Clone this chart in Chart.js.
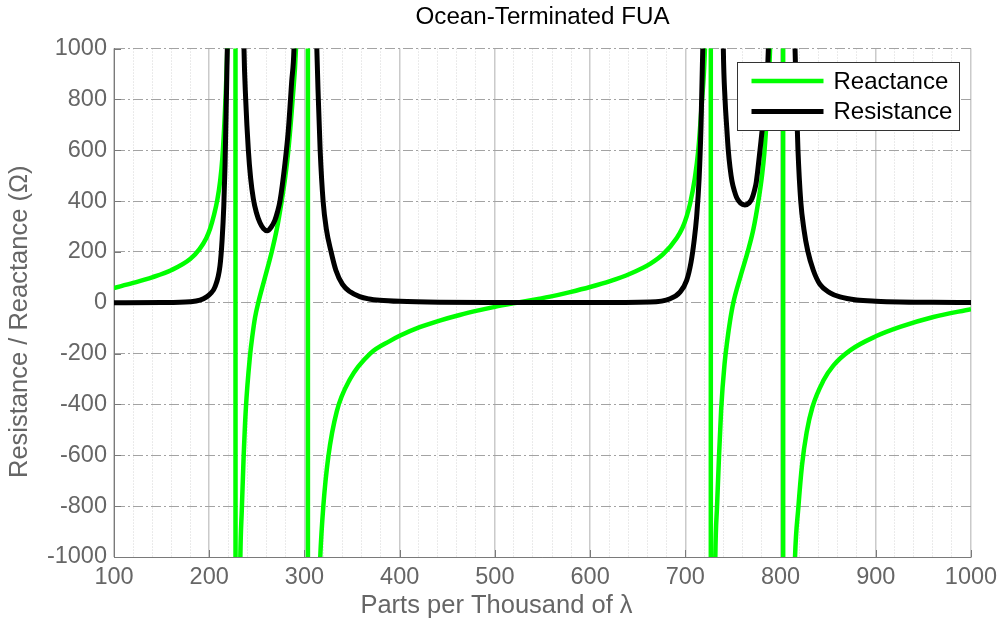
<!DOCTYPE html>
<html>
<head>
<meta charset="utf-8">
<title>Ocean-Terminated FUA</title>
<script src="https://cdn.jsdelivr.net/npm/chart.js@4.4.1/dist/chart.umd.min.js"></script>
<style>
  html, body { margin: 0; padding: 0; background: #fff; }
</style>
</head>
<body>
<canvas id="fua" width="1000" height="619"></canvas>
<script>
// feed-point impedance vs. length (parts per thousand of lambda)
// values beyond +/-1000 only steer the curve off the top/bottom of the plot
const reactanceX = [100, 120, 140, 160, 180, 190, 197, 201, 205, 208.5, 211.5, 213.8, 216.6, 219, 222, 225, 227.4,
  227.8, 229.5, 231, 232.7, 234.2, 236, 238.4, 242.8, 245.5, 248.1, 251.5, 258, 265.6, 271, 276.1, 280, 283.1, 287.6, 291.1, 295, 299, 302, 303.5,
  303.8, 306, 310, 313, 316.6, 319.8, 325.1, 333.9, 347.9, 369, 390, 400, 421, 442, 463, 484, 500, 523, 547, 558, 579, 600, 621, 642, 663, 677, 691, 697, 701.4, 705, 710, 713.6, 717, 720.6, 723, 725, 726.6,
  726.9, 728.5, 730, 731.5, 733.3, 735.2, 737.6, 741.2, 744, 747, 750.4, 758, 766.2, 771.5, 776.7, 780.5, 783, 786, 789, 792, 796, 800.5, 802.6,
  802.9, 805, 809, 812, 815.2, 818.7, 822.5, 827.4, 833.5, 845, 855.4, 873, 900, 925.5, 960.5, 1000];
const reactanceY = [58, 78, 100, 128, 172, 212, 255, 292, 345, 405, 480, 570, 760, 1000, 1500, 3000, 12000,
  -12000, -3000, -1600, -1000, -815, -620, -420, -210, -125, -58, 0, 92, 200, 290, 400, 500, 600, 800, 1000, 1500, 2800, 6000, 12000,
  -12000, -6000, -2200, -1400, -1000, -802, -605, -428, -300, -200, -150, -130, -96, -70, -48, -29, -16, 0, 16, 24, 42, 62, 85, 114, 153, 192, 255, 295, 340, 390, 490, 600, 770, 1000, 1400, 2600, 12000,
  -12000, -3000, -1600, -1000, -800, -620, -420, -240, -150, -70, 0, 105, 210, 290, 400, 500, 590, 760, 1000, 1500, 2800, 6500, 12000,
  -12000, -6000, -2500, -1500, -1000, -805, -640, -510, -410, -306, -247, -187, -132, -95, -56, -25];

const resistanceX = [100, 150, 180, 190.3, 197.3, 201, 206, 211.3, 213.5, 215.3, 216.6, 217.8, 219, 221, 224, 227.8,
  230.5, 233.5, 236.5, 238.3, 241.1, 243.5, 246.3, 249.5, 253.3, 257, 261, 265, 269, 271.5, 274.3, 279.6, 283.1, 286.6, 289, 293, 297, 301,
  305, 309.5, 313, 314.6, 316.5, 319.6, 323, 328, 333, 340, 348, 358, 368, 379, 400, 442, 500, 600, 663, 684, 694.4, 701.4, 706, 709.1, 711.9, 714.5, 716.5, 718.3, 721, 724, 729,
  734, 737.5, 739.9, 741.7, 743.3, 745.1, 747, 749, 751.5, 754, 758, 762.5, 767, 770, 772.5, 774.5, 778.4, 783.7, 787.2, 791, 796, 801,
  806, 811, 815.2, 816.6, 818.3, 821.2, 824.5, 828.5, 834.4, 841.4, 851.9, 862.4, 880, 900, 925, 960, 1000];
const resistanceY = [0.5, 1, 4, 10, 23, 35, 62, 145, 245, 380, 540, 760, 1000, 1550, 3500, 9000,
  4000, 1800, 1000, 800, 600, 490, 410, 355, 315, 292, 283, 297, 325, 355, 400, 550, 680, 870, 1000, 1700, 3500, 9000,
  3500, 1700, 1000, 800, 600, 400, 290, 200, 128, 72, 43, 24, 15, 10, 5.5, 2, 1, 1, 3, 16, 42, 88, 160, 240, 340, 490, 700, 1000, 1800, 4000, 9000,
  4000, 1800, 1000, 800, 700, 600, 530, 478, 440, 413, 392, 385, 393, 410, 440, 475, 600, 800, 1000, 1700, 3500, 9000,
  3500, 1700, 1000, 800, 600, 400, 290, 205, 128, 72, 39, 23, 11, 6, 3, 2, 1];

const xLabelled = [100, 200, 300, 400, 500, 600, 700, 800, 900, 1000];
const yLabelled = [-1000, -800, -600, -400, -200, 0, 200, 400, 600, 800, 1000];
const xTitle = 'Parts per Thousand of λ';
const yTitle = 'Resistance / Reactance (Ω)';

const FONT = "'Liberation Sans', Arial, Helvetica, sans-serif";
const GRAY = '#666666';
const AXIS = '#7a7a7a';

const toPoints = (xs, ys) => xs.map((x, i) => ({ x: x, y: ys[i] }));
const isMajorX = ctx => ctx.tick && xLabelled.includes(ctx.tick.value);

// inward tick marks on the left and bottom axes
const axisTicks = {
  id: 'axisTicks',
  beforeDatasetsDraw(chart) {
    const { ctx, chartArea: a, scales: { x, y } } = chart;
    ctx.save();
    ctx.strokeStyle = AXIS;
    ctx.lineWidth = 1;
    ctx.beginPath();
    xLabelled.forEach(v => {
      const px = Math.round(x.getPixelForValue(v)) + 0.5;
      ctx.moveTo(px, a.bottom);
      ctx.lineTo(px, a.bottom - 7);
    });
    yLabelled.forEach(v => {
      const py = Math.round(y.getPixelForValue(v)) + 0.5;
      ctx.moveTo(a.left, py);
      ctx.lineTo(a.left + 7, py);
    });
    ctx.stroke();
    ctx.restore();
  }
};

// axis titles, set a little off the plot centre like the original figure
const axisTitles = {
  id: 'axisTitles',
  afterDraw(chart) {
    const { ctx, chartArea: a } = chart;
    ctx.save();
    ctx.fillStyle = GRAY;
    ctx.font = '25.5px ' + FONT;
    ctx.textAlign = 'center';
    ctx.textBaseline = 'middle';
    ctx.fillText(xTitle, (a.left + a.right) / 2 - 46, 606);
    ctx.translate(20, (a.top + a.bottom) / 2 + 19);
    ctx.rotate(-Math.PI / 2);
    ctx.fillText(yTitle, 0, 0);
    ctx.restore();
  }
};

// boxed legend in the upper right of the plot
const boxLegend = {
  id: 'boxLegend',
  afterDraw(chart) {
    const { ctx, chartArea: a } = chart;
    const w = 222, h = 68;
    const x0 = Math.round(a.right - 12 - w) + 0.5;
    const y0 = Math.round(a.top + 13.5) + 0.5;
    ctx.save();
    ctx.fillStyle = '#fff';
    ctx.fillRect(x0, y0, w, h);
    ctx.strokeStyle = '#333';
    ctx.lineWidth = 1;
    ctx.strokeRect(x0, y0, w, h);
    ctx.font = '24px ' + FONT;
    ctx.textBaseline = 'middle';
    chart.data.datasets.forEach((ds, i) => {
      const ry = y0 + 18.5 + i * 30.5;
      ctx.strokeStyle = ds.borderColor;
      ctx.lineWidth = ds.borderWidth;
      ctx.beginPath();
      ctx.moveTo(x0 + 14, ry);
      ctx.lineTo(x0 + 86, ry);
      ctx.stroke();
      ctx.fillStyle = '#000';
      ctx.fillText(ds.label, x0 + 96, ry + 1);
    });
    ctx.restore();
  }
};

new Chart(document.getElementById('fua'), {
  type: 'line',
  data: {
    datasets: [
      {
        label: 'Reactance',
        data: toPoints(reactanceX, reactanceY),
        borderColor: '#00ff00',
        borderWidth: 4.5,
        pointRadius: 0,
        cubicInterpolationMode: 'monotone',
        clip: 0,
        order: 2
      },
      {
        label: 'Resistance',
        data: toPoints(resistanceX, resistanceY),
        borderColor: '#000000',
        borderWidth: 5,
        pointRadius: 0,
        cubicInterpolationMode: 'monotone',
        clip: 0,
        order: 1
      }
    ]
  },
  options: {
    responsive: false,
    animation: false,
    devicePixelRatio: 1,
    layout: { padding: { left: 0, right: 29, top: 0, bottom: 0 } },
    plugins: {
      legend: { display: false },
      tooltip: { enabled: false },
      title: {
        display: true,
        fullSize: false,
        text: 'Ocean-Terminated FUA',
        color: '#000',
        font: { family: FONT, size: 24.2, weight: 'normal' },
        padding: { top: 2.5, bottom: 17 }
      }
    },
    scales: {
      x: {
        type: 'linear',
        min: 100,
        max: 1000,
        afterFit(scale) {
          scale.height = 62;
          scale.paddingLeft = 0;
          scale.paddingRight = 0;
        },
        ticks: {
          stepSize: 20,
          autoSkip: false,
          maxRotation: 0,
          padding: 6,
          color: GRAY,
          font: { family: FONT, size: 23.5 },
          callback: v => xLabelled.includes(v) ? String(v) : ''
        },
        grid: {
          drawTicks: false,
          color: ctx => isMajorX(ctx) ? '#cacaca' : '#d6d6d6',
          lineWidth: ctx => isMajorX(ctx) ? 1.5 : 1
        },
        border: {
          color: AXIS,
          width: 1,
          dash: ctx => isMajorX(ctx) || !ctx.tick ? [] : [1, 2]
        }
      },
      y: {
        min: -1000,
        max: 1000,
        afterFit(scale) { scale.width = 114; },
        ticks: {
          stepSize: 200,
          padding: 7,
          color: GRAY,
          font: { family: FONT, size: 23.5 },
          callback: v => String(v)
        },
        grid: {
          drawTicks: false,
          color: '#a3a3a3',
          lineWidth: 1
        },
        border: {
          color: AXIS,
          width: 1,
          dash: [10, 3, 2, 3]
        }
      }
    }
  },
  plugins: [axisTicks, axisTitles, boxLegend]
});
</script>
</body>
</html>
